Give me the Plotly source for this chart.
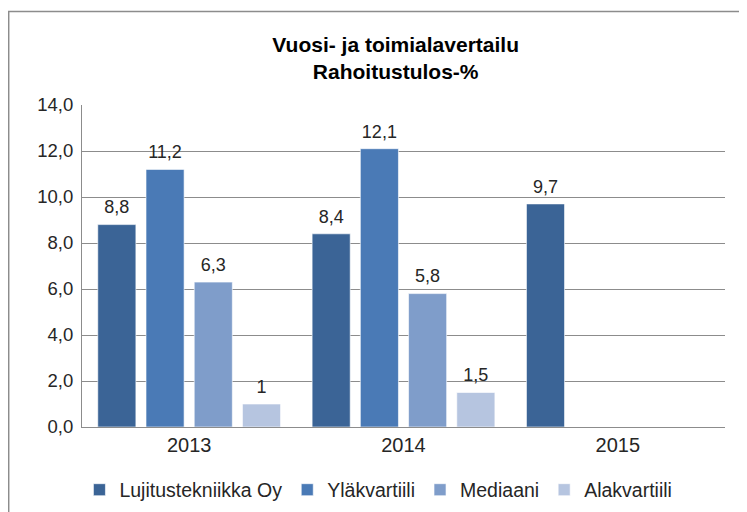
import plotly.graph_objects as go

years = ["2013", "2014", "2015"]
series_names = ["Lujitustekniikka Oy", "Yläkvartiili", "Mediaani", "Alakvartiili"]
lujitustekniikka = [8.8, 8.4, 9.7]
ylakvartiili = [11.2, 12.1, None]
mediaani = [6.3, 5.8, None]
alakvartiili = [1, 1.5, None]
y_ticks = [0, 2, 4, 6, 8, 10, 12, 14]

colors = ["#3B6496", "#4A7AB6", "#7F9DCA", "#B6C5E0"]
font = "Liberation Sans, Arial, sans-serif"


def label(v):
    return "" if v is None else str(v).replace(".", ",")


all_values = [lujitustekniikka, ylakvartiili, mediaani, alakvartiili]

fig = go.Figure()
for name, values, color in zip(series_names, all_values, colors):
    fig.add_trace(go.Bar(
        x=years,
        y=values,
        name=name,
        marker=dict(color=color, line=dict(color="rgba(255,255,255,0.6)", width=1)),
        hoverinfo="skip",
    ))

# data labels: invisible markers so the text sits a bit above the bar tops
for name, values in zip(series_names, all_values):
    fig.add_trace(go.Scatter(
        x=years,
        y=values,
        mode="markers+text",
        marker=dict(size=9, opacity=0),
        text=[label(v) for v in values],
        textposition="top center",
        textfont=dict(family=font, size=18, color="#262626"),
        showlegend=False,
        hoverinfo="skip",
        cliponaxis=False,
    ))

fig.update_layout(
    width=747,
    height=512,
    margin=dict(l=74, r=30, t=97, b=92),
    paper_bgcolor="white",
    plot_bgcolor="white",
    barmode="group",
    scattermode="group",
    bargap=0.1,
    scattergap=0.1,
    bargroupgap=0.21,
    separators=",.",
    title=dict(
        text="<b>Vuosi- ja toimialavertailu<br>Rahoitustulos-%</b>",
        x=0.519, xanchor="center", y=0.914, yanchor="middle",
        font=dict(family=font, size=21, color="#000000"),
    ),
    legend=dict(
        orientation="h",
        x=0.461, xanchor="center",
        y=-0.192, yanchor="middle",
        font=dict(family=font, size=19.5, color="#262626"),
        itemwidth=30,
        traceorder="normal",
    ),
    shapes=[dict(
        type="rect", xref="paper", yref="paper",
        x0=-0.114, x1=1.2, y0=-0.5, y1=1.29,
        line=dict(color="#8C8C8C", width=1.5),
        fillcolor="rgba(0,0,0,0)", layer="below",
    )],
)

fig.update_xaxes(
    showline=True, linewidth=1, linecolor="#8C8C8C",
    ticks="", showgrid=False,
    tickfont=dict(family=font, size=20, color="#262626"),
)
fig.update_yaxes(
    range=[0, 14], tickvals=y_ticks, tickformat=".1f",
    showline=True, linewidth=1, linecolor="#8C8C8C",
    showgrid=True, gridcolor="#8C8C8C", gridwidth=1,
    ticks="", ticklen=0, ticklabelstandoff=4,
    tickfont=dict(family=font, size=18.5, color="#262626"),
    zeroline=False,
)

fig.write_html("out.html")
